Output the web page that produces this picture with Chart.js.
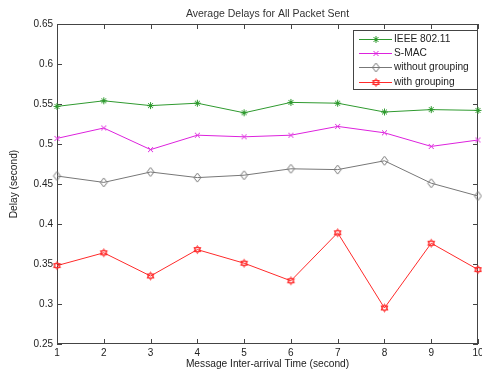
<!DOCTYPE html>
<html>
<head>
<meta charset="utf-8">
<script src="https://cdn.jsdelivr.net/npm/chart.js@4"></script>
<style>
  html, body { margin: 0; padding: 0; background: #fff; }
</style>
</head>
<body>
<canvas id="delayChart" width="482" height="373"></canvas>
<script>
// --- datos ---
const xValues = [1, 2, 3, 4, 5, 6, 7, 8, 9, 10];
const yTicks = [0.25, 0.3, 0.35, 0.4, 0.45, 0.5, 0.55, 0.6, 0.65];
const ieee80211 = [0.547, 0.554, 0.548, 0.551, 0.539, 0.552, 0.551, 0.540, 0.543, 0.542];
const smac = [0.507, 0.520, 0.493, 0.511, 0.509, 0.511, 0.522, 0.514, 0.497, 0.505];
const withoutGrouping = [0.460, 0.452, 0.465, 0.458, 0.461, 0.469, 0.468, 0.479, 0.451, 0.435];
const withGrouping = [0.348, 0.364, 0.335, 0.368, 0.351, 0.329, 0.389, 0.295, 0.376, 0.343];

const FONT = 'Liberation Sans, Arial, sans-serif';
const TEXT = '#222';

// marcadores estilo matlab
function marker(kind, color) {
  const c = document.createElement('canvas');
  c.width = 11; c.height = 11;
  const g = c.getContext('2d');
  g.strokeStyle = color;
  g.lineWidth = 1;
  const m = 5.5;
  g.beginPath();
  if (kind === 'star') {
    g.moveTo(m - 3.5, m); g.lineTo(m + 3.5, m);
    g.moveTo(m, m - 3.5); g.lineTo(m, m + 3.5);
    g.moveTo(m - 2.5, m - 2.5); g.lineTo(m + 2.5, m + 2.5);
    g.moveTo(m + 2.5, m - 2.5); g.lineTo(m - 2.5, m + 2.5);
  } else if (kind === 'x') {
    g.moveTo(m - 2.5, m - 2.5); g.lineTo(m + 2.5, m + 2.5);
    g.moveTo(m + 2.5, m - 2.5); g.lineTo(m - 2.5, m + 2.5);
  } else if (kind === 'diamond') {
    g.moveTo(m, m - 4.5); g.lineTo(m + 3.5, m);
    g.lineTo(m, m + 4.5); g.lineTo(m - 3.5, m); g.closePath();
  } else if (kind === 'hexagram') {
    const r = 4;
    for (let t = 0; t < 2; t++) {
      for (let i = 0; i < 3; i++) {
        const a = (t * 60 - 90 + i * 120) * Math.PI / 180;
        const px = m + r * Math.cos(a), py = m + r * Math.sin(a);
        i === 0 ? g.moveTo(px, py) : g.lineTo(px, py);
      }
      g.closePath();
    }
  }
  g.stroke();
  return c;
}

function series(label, values, color, kind) {
  const pt = marker(kind, color);
  return {
    label: label,
    data: xValues.map((x, i) => ({ x: x, y: values[i] })),
    borderColor: color,
    borderWidth: 1,
    pointStyle: pt,
    pointHoverRadius: 0,
    tension: 0,
    clip: false
  };
}

// --- marco con ticks hacia dentro ---
const framePlugin = {
  id: 'frame',
  beforeDatasetsDraw(chart) {
    const { ctx, chartArea: a, scales } = chart;
    ctx.save();
    ctx.strokeStyle = '#444';
    ctx.lineWidth = 1;
    ctx.strokeRect(a.left + 0.5, a.top + 0.5, a.right - a.left - 1, a.bottom - a.top - 1);
    ctx.beginPath();
    xValues.forEach(v => {
      const px = Math.round(scales.x.getPixelForValue(v)) + 0.5;
      ctx.moveTo(px, a.bottom); ctx.lineTo(px, a.bottom - 5);
      ctx.moveTo(px, a.top); ctx.lineTo(px, a.top + 5);
    });
    yTicks.forEach(v => {
      const py = Math.round(scales.y.getPixelForValue(v)) + 0.5;
      ctx.moveTo(a.left, py); ctx.lineTo(a.left + 5, py);
      ctx.moveTo(a.right, py); ctx.lineTo(a.right - 5, py);
    });
    ctx.stroke();
    ctx.restore();
  }
};

// --- leyenda en caja ---
const boxLegend = {
  id: 'boxLegend',
  afterDraw(chart) {
    const ctx = chart.ctx;
    const bx = 353, by = 30, bw = 124, bh = 59;
    ctx.save();
    ctx.fillStyle = '#fff';
    ctx.fillRect(bx, by, bw, bh);
    ctx.strokeStyle = '#444';
    ctx.lineWidth = 1;
    ctx.strokeRect(bx + 0.5, by + 0.5, bw, bh);
    ctx.font = '10.2px ' + FONT;
    ctx.textBaseline = 'middle';
    chart.data.datasets.forEach((ds, i) => {
      const y = Math.round(by + 9 + i * 14.2) + 0.5;
      ctx.strokeStyle = ds.borderColor;
      ctx.beginPath();
      ctx.moveTo(359, y); ctx.lineTo(392, y);
      ctx.stroke();
      ctx.drawImage(ds.pointStyle, 376 - 5.5, y - 5.5);
      ctx.fillStyle = TEXT;
      ctx.fillText(ds.label, 394, y);
    });
    ctx.restore();
  }
};

new Chart(document.getElementById('delayChart'), {
  type: 'line',
  data: {
    datasets: [
      series('IEEE 802.11', ieee80211, '#2f9a2f', 'star'),
      series('S-MAC', smac, '#dd22dd', 'x'),
      series('without grouping', withoutGrouping, '#777777', 'diamond'),
      series('with grouping', withGrouping, '#ff2a2a', 'hexagram')
    ]
  },
  options: {
    responsive: false,
    devicePixelRatio: 1,
    animation: false,
    events: [],
    layout: { padding: { left: 0, right: 2, top: 0, bottom: 0 } },
    plugins: {
      legend: { display: false },
      tooltip: { enabled: false },
      title: {
        display: true,
        text: 'Average Delays for All Packet Sent',
        fullSize: false,
        color: '#333',
        font: { family: FONT, size: 10.5, weight: 'normal' },
        padding: { top: 8, bottom: 3.4 }
      }
    },
    scales: {
      x: {
        type: 'linear',
        min: 1,
        max: 10,
        afterBuildTicks: s => { s.ticks = xValues.map(v => ({ value: v })); },
        afterFit: s => { s.height = 29; s.paddingLeft = 0; s.paddingRight = 0; },
        grid: { display: false, drawTicks: false },
        border: { display: false },
        ticks: { color: TEXT, padding: 3, maxRotation: 0, font: { family: FONT, size: 10 } },
        title: {
          display: true,
          text: 'Message Inter-arrival Time (second)',
          color: TEXT,
          padding: { top: 0, bottom: 3 },
          font: { family: FONT, size: 10.2 }
        }
      },
      y: {
        min: 0.25,
        max: 0.65,
        afterBuildTicks: s => { s.ticks = yTicks.map(v => ({ value: v })); },
        afterFit: s => { s.width = 57; s.paddingTop = 0; s.paddingBottom = 0; },
        grid: { display: false, drawTicks: false },
        border: { display: false },
        ticks: {
          color: TEXT,
          padding: 4,
          font: { family: FONT, size: 10 },
          callback: v => String(+v.toFixed(2))
        },
        title: {
          display: true,
          text: 'Delay (second)',
          color: TEXT,
          padding: { top: 8, bottom: 0 },
          font: { family: FONT, size: 10.2 }
        }
      }
    }
  },
  plugins: [framePlugin, boxLegend]
});
</script>
</body>
</html>
